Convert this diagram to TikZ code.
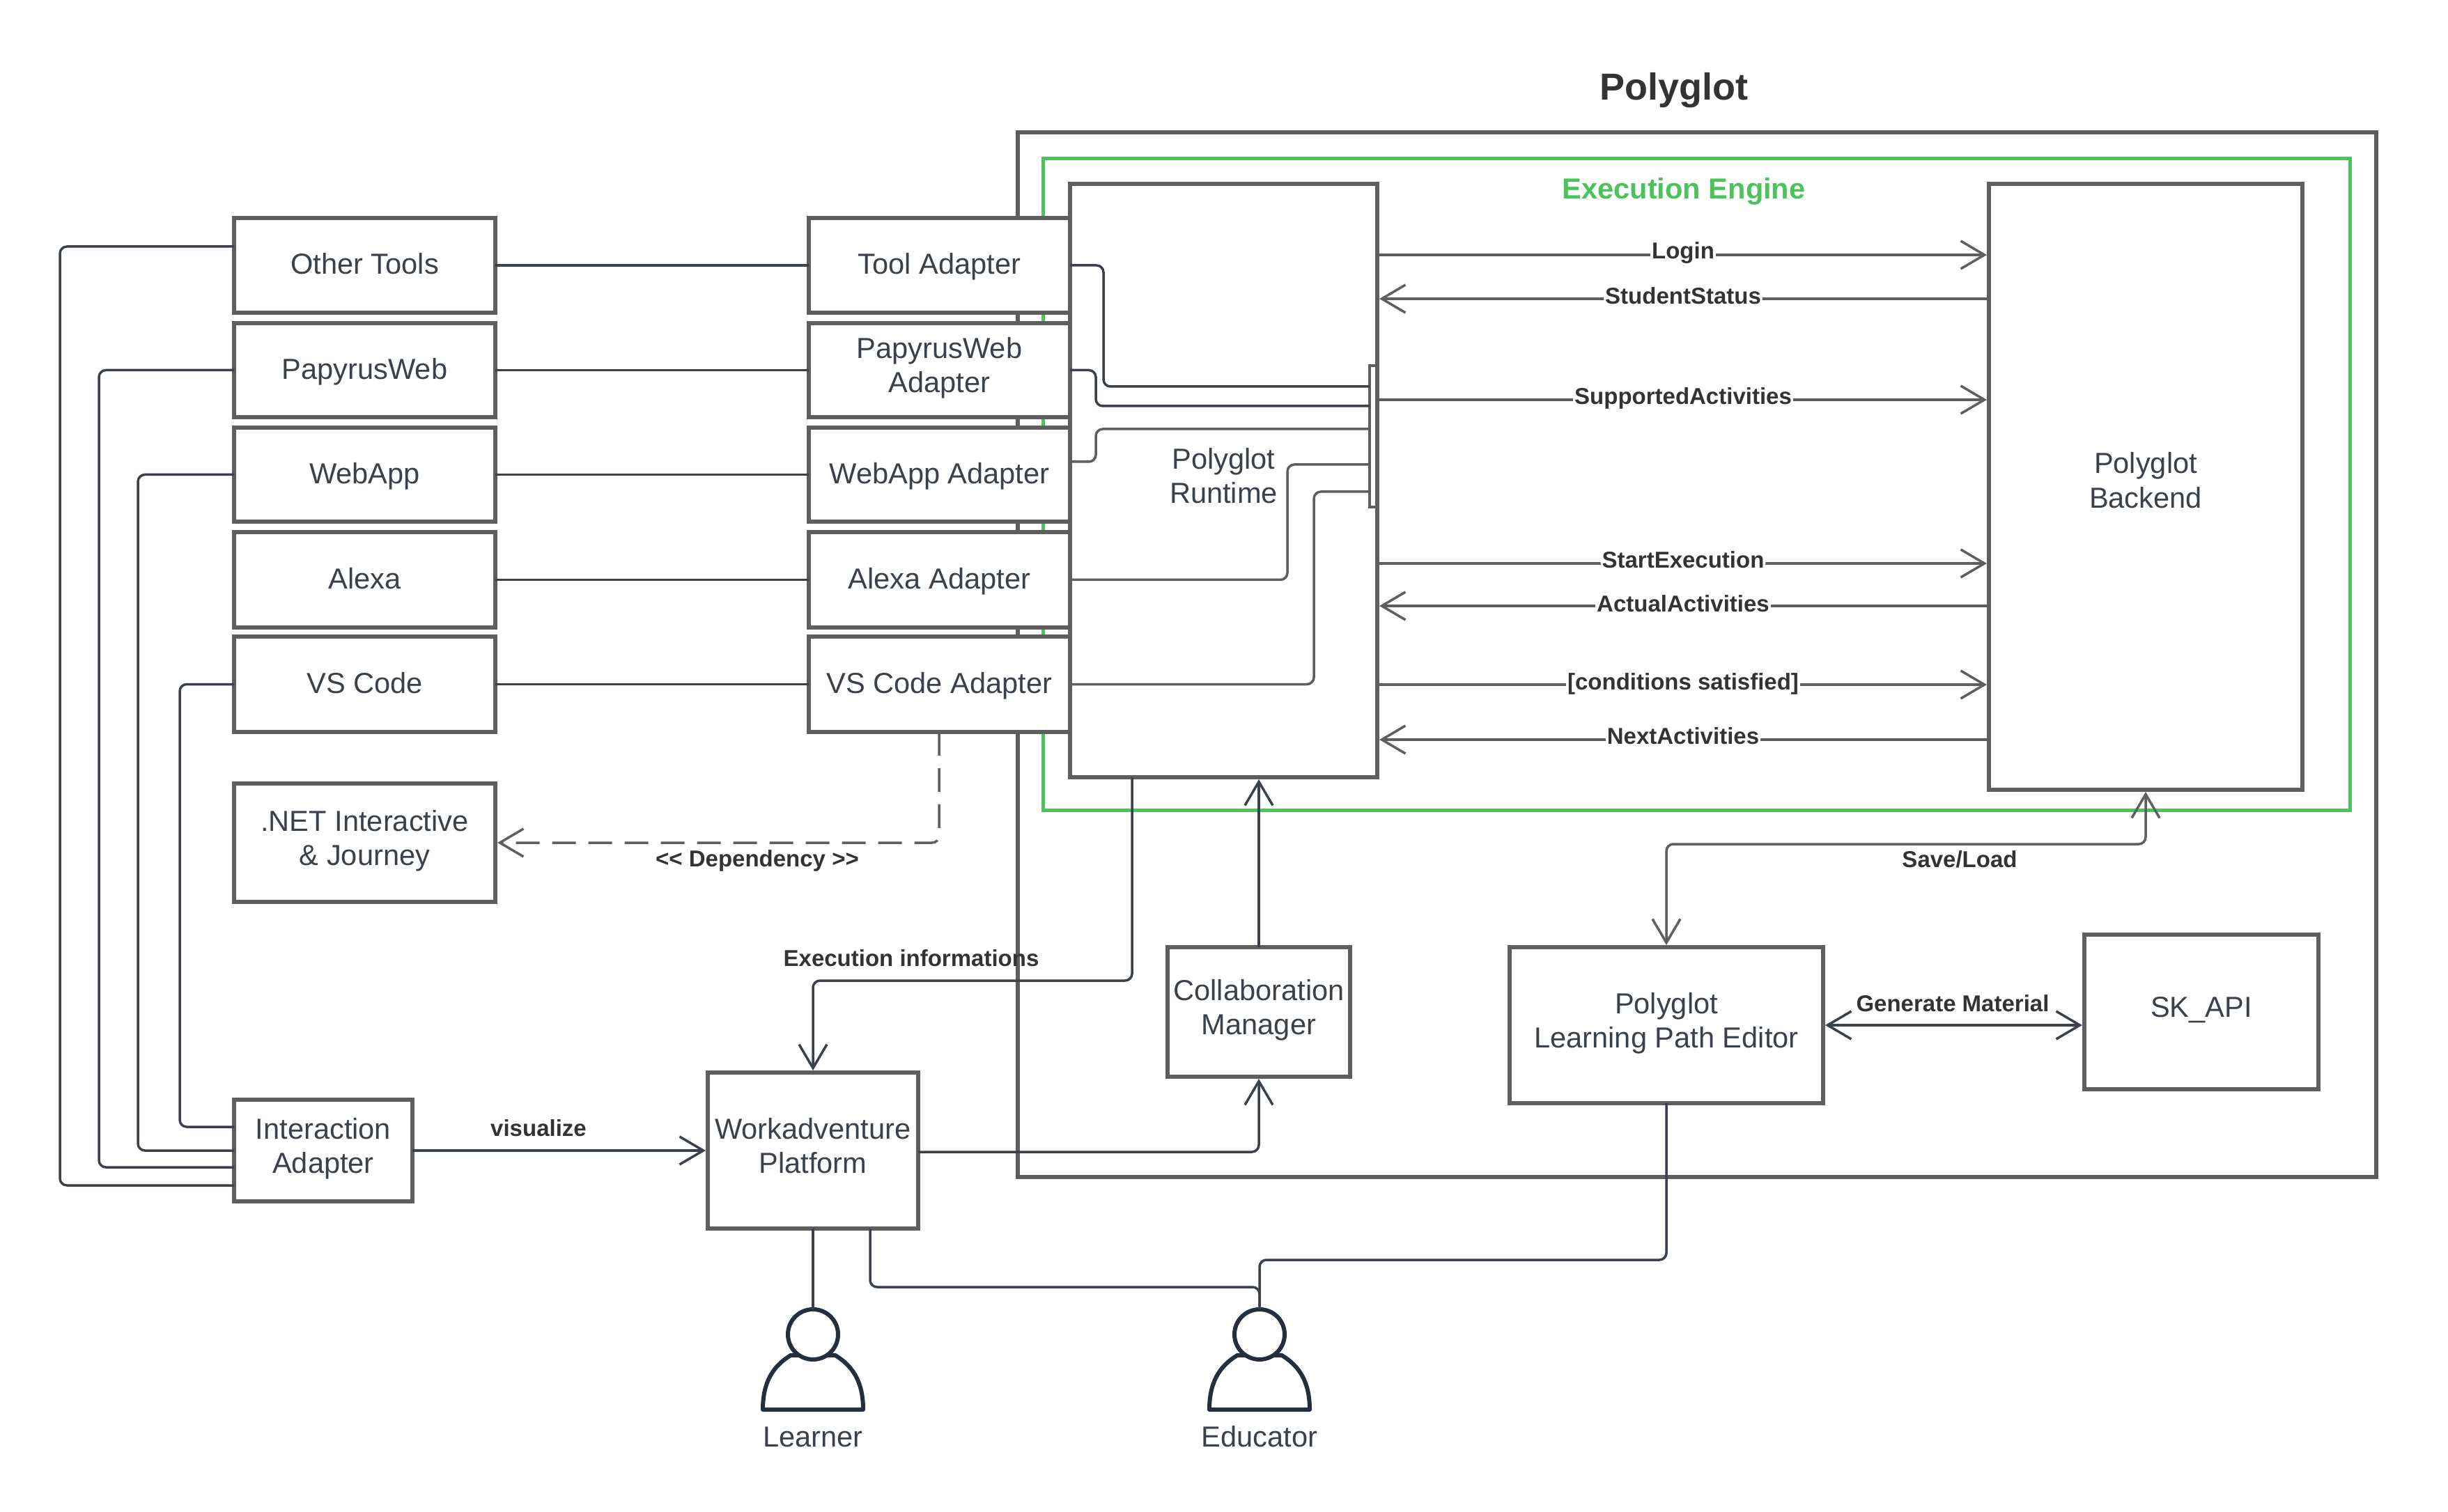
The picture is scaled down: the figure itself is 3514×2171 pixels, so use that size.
\documentclass[tikz,border=0pt]{standalone}
\usepackage{fontspec}
\setmainfont{Liberation Sans}
\usetikzlibrary{arrows.meta,calc}
\definecolor{edgegray}{HTML}{5E5E5E}
\definecolor{inkdark}{HTML}{3A414A}
\definecolor{titleink}{HTML}{333333}
\definecolor{greenline}{HTML}{4CC35A}
\definecolor{actorink}{HTML}{242F3E}
\tikzset{
  box/.style={draw=edgegray,line width=3pt,fill=white,inner sep=0pt,outer sep=0pt,align=center,text=inkdark,font=\fontsize{20.8}{24.6}\selectfont},
  conn/.style={draw=inkdark,line width=1.75pt,rounded corners=5pt},
  grayconn/.style={draw=edgegray,line width=1.75pt,rounded corners=5pt},
  tipend/.style={-{Straight Barb[length=17pt,width=20pt,line width=1.75pt]},shorten >=1.5pt},
  tipboth/.style={{Straight Barb[length=17pt,width=20pt,line width=1.75pt]}-{Straight Barb[length=17pt,width=20pt,line width=1.75pt]},shorten >=1.5pt,shorten <=1.5pt},
  tipstart/.style={{Straight Barb[length=17pt,width=20pt,line width=1.75pt]}-,shorten <=1.5pt},
  lbl/.style={font=\fontsize{16.5}{20}\selectfont\bfseries,text=titleink,fill=white,inner sep=1pt},
  lblfree/.style={font=\fontsize{16.5}{20}\selectfont\bfseries,text=titleink,inner sep=1pt},
  actorlabel/.style={font=\fontsize{20.8}{24.6}\selectfont,text=inkdark,inner sep=0pt},
  head/.style={circle,draw=actorink,line width=3pt,fill=white,minimum size=36pt,inner sep=0pt,outer sep=0pt},
  bodyshape/.style={draw=actorink,line width=3pt,fill=white,line join=round},
}
\newcommand{\lift}[1]{\\[\dimexpr #1-24.6pt\relax]\mbox{}}
\newcommand{\bx}[6]{\node[box,minimum width={(#4-#2)*0.5pt},minimum height={(#5-#3)*0.5pt}] (#1) at ({(#2+#4)/2},{(#3+#5)/2}) {\rule{0pt}{17pt}#6\vphantom{Apg}};}
\newcommand{\actorfig}[2]{%
  \draw[bodyshape] (#2-72,2024) .. controls (#2-72,1985) and (#2-58,1962) .. (#2-32,1946) -- (#2+32,1946) .. controls (#2+58,1962) and (#2+72,1985) .. (#2+72,2024) -- cycle;
  \node[head] (#1) at (#2,1916) {};
}
\begin{document}
\begin{tikzpicture}[x=0.5pt,y=-0.5pt]
\useasboundingbox (0,0) rectangle (3514,2171);
% containers
\node[box,fill=none,minimum width=975pt,minimum height=750pt] (outer) at (2436,940) {};
\node[draw=greenline,line width=2.5pt,inner sep=0pt,outer sep=0pt,minimum width=938pt,minimum height=468pt] (engine) at (2435,695.5) {};
\node[font=\fontsize{27}{32}\selectfont\bfseries,text=titleink] (title) at (2403,130) {Polyglot};
\node[font=\fontsize{20.8}{24}\selectfont\bfseries,text=greenline] (enginetitle) at (2417,275) {Execution Engine};
% left tools
\bx{other}{336}{313}{711}{449}{Other Tools}
\bx{papyrus}{336}{464}{711}{599}{PapyrusWeb}
\bx{webapp}{336}{614}{711}{749}{WebApp}
\bx{alexa}{336}{764}{711}{901}{Alexa}
\bx{vscode}{336}{914}{711}{1051}{VS Code}
\bx{dotnet}{336}{1125}{711}{1295}{.NET Interactive\\\& Journey\lift{4.9pt}}
% adapters
\bx{toolad}{1161}{313}{1536}{449}{Tool Adapter}
\bx{papyad}{1161}{464}{1536}{599}{PapyrusWeb\\Adapter\lift{4.9pt}}
\bx{webad}{1161}{614}{1536}{749}{WebApp Adapter}
\bx{alexaad}{1161}{764}{1536}{901}{Alexa Adapter}
\bx{vsad}{1161}{914}{1536}{1051}{VS Code Adapter}
% main
\bx{runtime}{1536}{264}{1977}{1116}{Polyglot\\Runtime\lift{4.7pt}}
\bx{backend}{2855}{264}{3305}{1134}{Polyglot\\Backend\lift{7.2pt}}
\node[draw=edgegray,line width=2pt,fill=white,inner sep=0pt,outer sep=0pt,minimum width=5pt,minimum height=101.5pt] (bar) at (1971,626.5) {};
\bx{collab}{1676}{1360}{1938}{1546}{Collaboration\\Manager\lift{4.9pt}}
\bx{editor}{2167}{1360}{2617}{1584}{Polyglot\\Learning Path Editor\lift{4.9pt}}
\bx{skapi}{2992}{1342}{3328}{1564}{SK\_API\lift{4.9pt}}
\bx{workadv}{1016}{1540}{1318}{1764}{Workadventure\\Platform\lift{4.9pt}}
\bx{interact}{336}{1579}{592}{1725}{Interaction\\Adapter\lift{4.9pt}}
% actors
\actorfig{learner}{1167}
\actorfig{educator}{1808}
\node[actorlabel] (learnerlabel) at (1167,2063) {Learner};
\node[actorlabel] (educatorlabel) at (1808,2063) {Educator};
% tool to adapter
\draw[conn] (other.east) -- (toolad.west);
\draw[conn] (papyrus.east) -- (papyad.west);
\draw[conn] (webapp.east) -- (webad.west);
\draw[conn] (alexa.east) -- (alexaad.west);
\draw[conn] (vscode.east) -- (vsad.west);
% tools to interaction adapter
\draw[conn] ([yshift=13.5pt]other.west) -- (86,354) -- (86,1702) -- (interact.west |- 0,1702);
\draw[conn] (papyrus.west) -- (142,531.5) -- (142,1676) -- (interact.west |- 0,1676);
\draw[conn] (webapp.west) -- (198,681.5) -- (198,1652) -- (interact.west |- 0,1652);
\draw[conn] (vscode.west) -- (258,982.5) -- (258,1618) -- (interact.west |- 0,1618);
% adapters to bar
\draw[conn] (toolad.east) -- (1584,381) -- (1584,555) -- (bar.west |- 0,555);
\draw[conn] (papyad.east) -- (1573,531.5) -- (1573,583) -- (bar.west |- 0,583);
\draw[grayconn] (webad.east |- 0,663) -- (1573,663) -- (1573,616) -- (bar.west |- 0,616);
\draw[grayconn] (alexaad.east) -- (1848,832.5) -- (1848,667) -- (bar.west |- 0,667);
\draw[grayconn] (vsad.east) -- (1886,982.5) -- (1886,706) -- (bar.west |- 0,706);
% runtime <-> backend
\draw[grayconn,tipend] (runtime.east |- 0,366) -- node[lbl,yshift=1.5pt]{Login} (backend.west |- 0,366);
\draw[grayconn,tipstart] (runtime.east |- 0,429) -- node[lbl,yshift=2pt]{StudentStatus} (backend.west |- 0,429);
\draw[grayconn,tipend] (runtime.east |- 0,574) -- node[lbl,yshift=1.2pt]{SupportedActivities} (backend.west |- 0,574);
\draw[grayconn,tipend] (runtime.east |- 0,809) -- node[lbl,yshift=2.5pt]{StartExecution} (backend.west |- 0,809);
\draw[grayconn,tipstart] (runtime.east |- 0,870) -- node[lbl,yshift=1.5pt]{ActualActivities} (backend.west |- 0,870);
\draw[grayconn,tipend] (runtime.east |- 0,983) -- node[lbl,yshift=0.6pt]{[conditions satisfied]} (backend.west |- 0,983);
\draw[grayconn,tipstart] (runtime.east |- 0,1062) -- node[lbl,yshift=2.5pt]{NextActivities} (backend.west |- 0,1062);
% dependency
\draw[grayconn,dash pattern=on 17pt off 9pt,tipend] (vsad.south -| 1348,0) -- (1348,1210) -- (dotnet.east);
\node[lblfree] (deplabel) at (1087,1236) {{<}{<} Dependency {>}{>}};
% bottom
\draw[conn,tipend] (runtime.south -| 1625,0) -- (1625,1408) -- (workadv.north |- 0,1408) -- (workadv.north);
\node[lblfree] (execlabel) at (1308,1376) {Execution informations};
\draw[conn,tipend] (collab.north) -- (collab.north |- runtime.south);
\draw[conn,tipend] (workadv.east |- 0,1654) -- (1807,1654) -- (collab.south);
\draw[conn,tipend] (interact.east) -- (workadv.west |- interact.east);
\node[lblfree] (vislabel) at (773,1620) {visualize};
\draw[grayconn,tipboth] (backend.south) -- (3080,1212) -- (2392,1212) -- (editor.north);
\node[lblfree] (savelabel) at (2813,1234) {Save/Load};
\draw[conn,tipboth] (editor.east) -- (skapi.west |- editor.east);
\node[lblfree] (genlabel) at (2803,1441) {Generate Material};
\draw[conn] (editor.south) -- (2392,1809) -- (1808,1809) -- (educator.north);
\draw[conn] (workadv.south) -- (learner.north);
\draw[conn] ([xshift=41pt]workadv.south) -- (1249,1848) -- (1808,1848) -- (educator.north);
\end{tikzpicture}
\end{document}
